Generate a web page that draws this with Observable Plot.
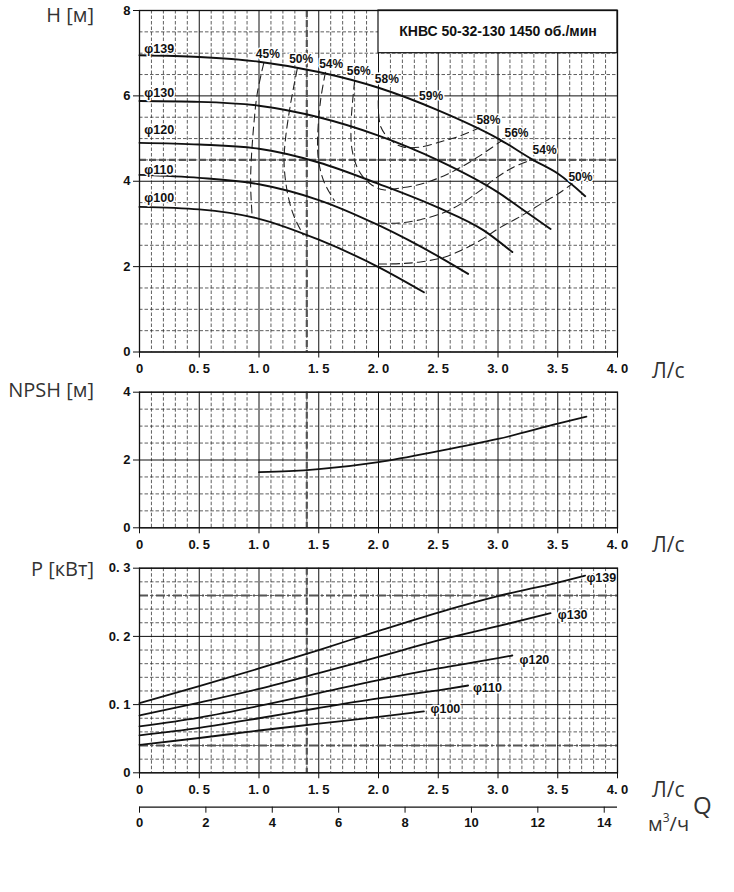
<!DOCTYPE html>
<html><head><meta charset="utf-8">
<script src="https://cdn.jsdelivr.net/npm/d3@7"></script>
<script src="https://cdn.jsdelivr.net/npm/@observablehq/plot@0.6"></script>
<style>
html,body{margin:0;padding:0;background:#fff;}
#wrap{position:relative;width:734px;height:892px;overflow:hidden;}
#wrap svg{position:absolute;left:0;}
.lab{position:absolute;font-family:"Open Sans","Noto Sans",sans-serif;color:#333;white-space:nowrap;line-height:1;}
</style></head>
<body><div id="wrap"></div>
<script>
// ---------- data ----------
const xMajor = [0, 0.5, 1.0, 1.5, 2.0, 2.5, 3.0, 3.5, 4.0];
const xMinor = [0.1,0.2,0.3,0.4,0.6,0.7,0.8,0.9,1.1,1.2,1.3,1.4,1.6,1.7,1.8,1.9,2.1,2.2,2.3,2.4,2.6,2.7,2.8,2.9,3.1,3.2,3.3,3.4,3.6,3.7,3.8,3.9];
const m3hTicks = [0, 2, 4, 6, 8, 10, 12, 14];

const hMajor = [0, 2, 4, 6, 8];
const hMinor = [0.5,1,1.5,2.5,3,3.5,4.5,5,5.5,6.5,7,7.5];
const npshMajor = [0, 2, 4];
const npshMinor = [0.5,1,1.5,2.5,3,3.5];
const pMajor = [0, 0.1, 0.2, 0.3];
const pMinor = [0.02,0.04,0.06,0.08,0.12,0.14,0.16,0.18,0.22,0.24,0.26,0.28];

const dutyQ = 1.4, dutyH = 4.5;
const pMarks = [0.26, 0.04];

const diameters = ["φ139", "φ130", "φ120", "φ110", "φ100"];

// H(Q) curves [Q л/с, H м]
const H139 = [[0,6.95],[0.5,6.91],[1.0,6.8],[1.5,6.56],[2.0,6.19],[2.5,5.66],[3.0,5.0],[3.3,4.49],[3.5,4.18],[3.73,3.65]];
const H130 = [[0,5.88],[0.5,5.86],[1.0,5.77],[1.5,5.5],[2.0,5.07],[2.5,4.49],[3.0,3.74],[3.2,3.35],[3.44,2.88]];
const H120 = [[0,4.9],[0.5,4.86],[1.0,4.76],[1.5,4.44],[2.0,3.94],[2.5,3.38],[2.88,2.85],[3.12,2.34]];
const H110 = [[0,4.15],[0.5,4.08],[1.0,3.93],[1.5,3.56],[2.0,2.97],[2.5,2.24],[2.75,1.83]];
const H100 = [[0,3.4],[0.5,3.34],[1.0,3.12],[1.5,2.63],[2.0,1.99],[2.38,1.4]];
const Hcurves = [H139, H130, H120, H110, H100];
const HlabelPos = [[0.04,7.1],[0.04,6.06],[0.04,5.19],[0.04,4.27],[0.04,3.61]];

// iso-efficiency curves
const eff45 = [[1.04,6.77],[0.985,6.05],[0.957,5.34],[0.935,4.48],[0.93,3.9],[0.943,3.16]];
const eff50a = [[1.32,6.63],[1.264,5.81],[1.22,4.95],[1.21,4.41],[1.24,3.7],[1.29,3.2],[1.37,2.74]];
const eff50b = [[2.0,2.06],[2.18,2.07],[2.35,2.11],[2.55,2.22],[2.69,2.38],[2.85,2.61],[3.02,2.92],[3.19,3.18],[3.36,3.47],[3.5,3.7],[3.62,3.94]];
const eff54a = [[1.556,6.55],[1.515,5.89],[1.49,4.95],[1.5,4.45],[1.545,3.98],[1.63,3.55]];
const eff54b = [[2.0,3.02],[2.17,3.02],[2.35,3.1],[2.55,3.27],[2.69,3.47],[2.85,3.78],[2.99,4.09],[3.13,4.33],[3.28,4.5]];
const eff56 = [[1.8,6.34],[1.77,5.34],[1.78,4.72],[1.835,4.25],[1.93,3.94],[2.04,3.8],[2.18,3.84],[2.35,3.93],[2.55,4.13],[2.69,4.33],[2.85,4.6],[3.03,4.95]];
const eff58 = [[2.0,6.19],[2.02,5.27],[2.13,4.9],[2.21,4.8],[2.35,4.8],[2.55,4.95],[2.69,5.07],[2.84,5.25]];
const effCurves = [eff45, eff50a, eff50b, eff54a, eff54b, eff56, eff58];
const effLabels = ["45%","50%","54%","56%","58%","59%","58%","56%","54%","50%"];
const effLabelPos = [[1.074,6.97],[1.353,6.87],[1.604,6.75],[1.835,6.59],[2.07,6.4],[2.44,6.0],[2.92,5.44],[3.155,5.13],[3.39,4.72],[3.69,4.09]];

const title = "КНВС 50-32-130 1450 об./мин";

// NPSH
const NPSH = [[1.0,1.64],[1.25,1.67],[1.5,1.73],[2.0,1.94],[2.5,2.26],[3.0,2.62],[3.5,3.07],[3.74,3.28]];

// Power P(Q) [Q л/с, P кВт]
const P139 = [[0,0.102],[0.5,0.127],[1.0,0.153],[1.5,0.18],[2.0,0.208],[2.5,0.235],[3.0,0.259],[3.5,0.279],[3.73,0.289]];
const P130 = [[0,0.084],[0.5,0.103],[1.0,0.123],[1.5,0.146],[2.0,0.17],[2.5,0.194],[3.0,0.215],[3.44,0.234]];
const P120 = [[0,0.068],[0.5,0.081],[1.0,0.098],[1.5,0.117],[2.0,0.136],[2.5,0.153],[3.0,0.168],[3.12,0.172]];
const P110 = [[0,0.055],[0.5,0.066],[1.0,0.08],[1.5,0.095],[2.0,0.109],[2.5,0.121],[2.75,0.128]];
const P100 = [[0,0.041],[0.5,0.051],[1.0,0.062],[1.5,0.072],[2.0,0.082],[2.38,0.09]];
const Pcurves = [P139, P130, P120, P110, P100];
const PlabelPos = [[3.74,0.285],[3.5,0.231],[3.18,0.166],[2.79,0.125],[2.435,0.093]];

// ---------- drawing ----------
const W = 734, ML = 139, MR = 117;
const fmt1 = d => d === 0 ? "0" : d.toFixed(1).replace(".", ". ");
const style = {background:"transparent", fontFamily:"'Liberation Sans', Arial, sans-serif", fontSize:"13px", fontWeight:"bold", color:"#111", overflow:"visible"};
const dashMinor = {stroke:"#2a2a2a", strokeWidth:0.75, strokeDasharray:"3.5,2"};

function gridMarks(yMajor, yMinor) {
  return [
    Plot.ruleX(xMinor, dashMinor),
    Plot.ruleY(yMinor, dashMinor),
    Plot.ruleX(xMajor, {stroke:"#111", strokeWidth:1}),
    Plot.ruleY(yMajor, {stroke:"#111", strokeWidth:1})
  ];
}
function axes(yMajor, yFmt) {
  return [
    Plot.frame({stroke:"#111", strokeWidth:1.3}),
    Plot.axisX({ticks:xMajor, tickFormat:fmt1, tickSize:6, tickPadding:6, fontSize:13, label:null}),
    Plot.axisY({ticks:yMajor, tickFormat:yFmt, tickSize:6, tickPadding:3, fontSize:13, label:null})
  ];
}
const line = (data, extra={}) => Plot.line(data, {x:d=>d[0], y:d=>d[1], curve:"monotone-x", stroke:"#111", strokeWidth:1.9, ...extra});
const effLine = (data) => Plot.line(data, {x:d=>d[0], y:d=>d[1], curve:"catmull-rom", stroke:"#222", strokeWidth:1.1, strokeDasharray:"8,5"});

const wrap = document.getElementById("wrap");

// Panel 1: H
const effLabelData = effLabels.map((t,i)=>({t, x:effLabelPos[i][0], y:effLabelPos[i][1]}));
const hLabelData = diameters.map((t,i)=>({t, x:HlabelPos[i][0], y:HlabelPos[i][1]}));
const p1 = Plot.plot({
  width:W, height:385, marginLeft:ML, marginRight:MR, marginTop:10, marginBottom:33.5,
  x:{domain:[0,4], label:null}, y:{domain:[0,8], label:null}, style,
  marks:[
    ...gridMarks(hMajor, hMinor),
    Plot.ruleX([dutyQ], {stroke:"#555", strokeWidth:2.2, strokeDasharray:"7,3"}),
    Plot.ruleY([dutyH], {stroke:"#555", strokeWidth:2.2, strokeDasharray:"7,3"}),
    Plot.rect([{x1:2, x2:4, y1:7, y2:8}], {x1:"x1", x2:"x2", y1:"y1", y2:"y2", fill:"white", stroke:"#111", strokeWidth:1.2}),
    Plot.text([title], {x:3, y:7.5, text:d=>d, fontSize:14, fontWeight:"bold", fill:"#111"}),
    ...effCurves.map(c => effLine(c)),
    ...Hcurves.map(c => line(c)),
    Plot.text(effLabelData, {x:"x", y:"y", text:"t", fontSize:12, fontWeight:"bold", fill:"#111", stroke:"white", strokeWidth:3, letterSpacing:"-0.5px"}),
    Plot.text(hLabelData, {x:"x", y:"y", text:"t", textAnchor:"start", fontSize:12.5, fontWeight:"bold", fill:"#111", stroke:"white", strokeWidth:3}),
    ...axes(hMajor, d=>String(d))
  ]
});
p1.style.top = "0px";
wrap.appendChild(p1);

// Panel 2: NPSH
const p2 = Plot.plot({
  width:W, height:175, marginLeft:ML, marginRight:MR, marginTop:6.7, marginBottom:32.7,
  x:{domain:[0,4], label:null}, y:{domain:[0,4], label:null}, style,
  marks:[
    ...gridMarks(npshMajor, npshMinor),
    Plot.ruleX([dutyQ], {stroke:"#555", strokeWidth:2.2, strokeDasharray:"7,3"}),
    line(NPSH, {strokeWidth:1.8}),
    ...axes(npshMajor, d=>String(d))
  ]
});
p2.style.top = "385px";
wrap.appendChild(p2);

// Panel 3: Power
const pLabelData = diameters.map((t,i)=>({t, x:PlabelPos[i][0], y:PlabelPos[i][1]}));
const p3 = Plot.plot({
  width:W, height:332, marginLeft:ML, marginRight:MR, marginTop:7.7, marginBottom:119.7,
  x:{domain:[0,4], label:null}, y:{domain:[0,0.3], label:null}, style,
  marks:[
    ...gridMarks(pMajor, pMinor),
    Plot.ruleX([dutyQ], {stroke:"#555", strokeWidth:2.2, strokeDasharray:"7,3"}),
    Plot.ruleY(pMarks, {stroke:"#555", strokeWidth:2.2, strokeDasharray:"9,3,2,3"}),
    ...Pcurves.map(c => line(c, {strokeWidth:1.8})),
    Plot.text(pLabelData, {x:"x", y:"y", text:"t", textAnchor:"start", fontSize:12.5, fontWeight:"bold", fill:"#111", stroke:"white", strokeWidth:3}),
    ...axes(pMajor, fmt1),
    Plot.ruleY([0], {dy:34.4, stroke:"#111", strokeWidth:1.3}),
    Plot.axisX({ticks:m3hTicks.map(v=>v/3.6), tickFormat:d=>String(Math.round(d*3.6)), tickSize:6, tickPadding:5, dy:34.4, fontSize:13, label:null})
  ]
});
p3.style.top = "560px";
wrap.appendChild(p3);

// Unit / axis titles (HTML text)
const labels = [
  {t:"H [м]", right:640, top:5, fs:20},
  {t:"NPSH [м]", right:640, top:380, fs:20},
  {t:"P [кВт]", right:640, top:559, fs:20},
  {t:"Л/с", left:652, top:360, fs:21},
  {t:"Л/с", left:652, top:534, fs:21},
  {t:"Л/с", left:652, top:779, fs:21},
  {t:"Q", left:693, top:793, fs:24},
  {t:"м<sup style='font-size:60%;vertical-align:top;position:relative;top:-2px'>3</sup>/ч", left:648, top:814, fs:20}
];
labels.forEach(l => {
  const d = document.createElement("div");
  d.className = "lab";
  d.innerHTML = l.t;
  d.style.fontSize = l.fs + "px";
  d.style.top = l.top + "px";
  if (l.right !== undefined) d.style.right = l.right + "px"; else d.style.left = l.left + "px";
  wrap.appendChild(d);
});
</script></body></html>
